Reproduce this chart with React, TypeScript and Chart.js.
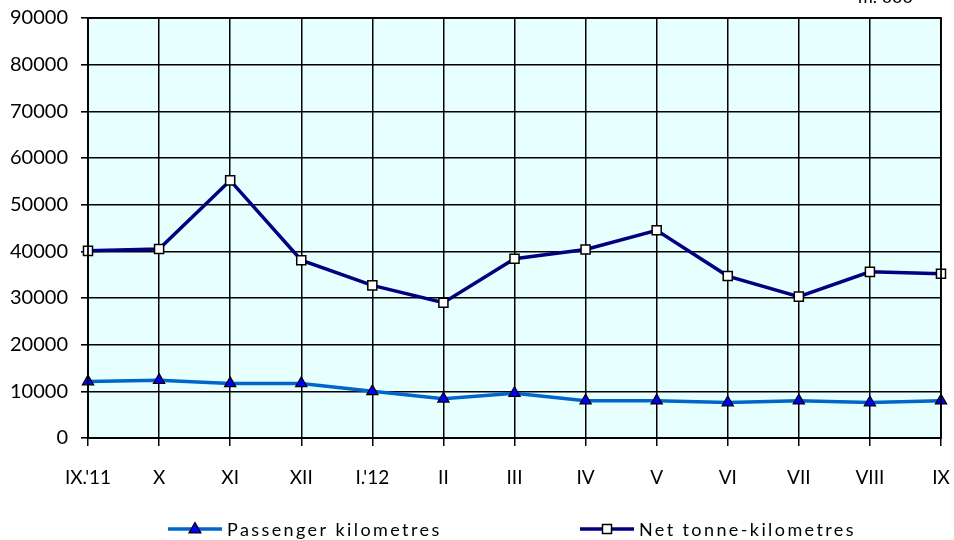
import React, { useEffect, useRef } from "react";
import { Chart, registerables } from "chart.js";

Chart.register(...registerables);

const categories = ["IX.'11", "X", "XI", "XII", "I.'12", "II", "III", "IV", "V", "VI", "VII", "VIII", "IX"];
const passengerKm = [12100, 12400, 11700, 11700, 10000, 8400, 9600, 8000, 8000, 7600, 8000, 7600, 8000];
const netTonneKm = [40100, 40500, 55200, 38100, 32700, 29000, 38400, 40400, 44500, 34700, 30300, 35600, 35200];
const yTicks = [0, 10000, 20000, 30000, 40000, 50000, 60000, 70000, 80000, 90000];
const unitLabel = "m. 000";
const seriesNames = ["Passenger kilometres", "Net tonne-kilometres"];

const FONT = "Lato";

const decorPlugin = {
  id: "decor",
  beforeDraw(chart: any) {
    const { ctx, chartArea } = chart;
    ctx.save();
    ctx.fillStyle = "#E8FFFF";
    ctx.fillRect(chartArea.left, chartArea.top, chartArea.right - chartArea.left, chartArea.bottom - chartArea.top);
    ctx.restore();
  },
  afterDraw(chart: any) {
    const { ctx, chartArea } = chart;
    ctx.save();
    ctx.strokeStyle = "#000";
    ctx.lineWidth = 1.8;
    ctx.strokeRect(chartArea.left, chartArea.top, chartArea.right - chartArea.left, chartArea.bottom - chartArea.top);
    ctx.fillStyle = "#000";
    ctx.font = `18px ${FONT}`;
    ctx.textBaseline = "alphabetic";
    ctx.textAlign = "left";
    ctx.fillText(unitLabel, 858, 3);
    const items = [
      { name: seriesNames[0], x: 168, color: "#0066CC", marker: "triangle" },
      { name: seriesNames[1], x: 580, color: "#000080", marker: "rect" },
    ];
    const y = 529;
    items.forEach((it) => {
      ctx.strokeStyle = it.color;
      ctx.lineWidth = 3.5;
      ctx.beginPath();
      ctx.moveTo(it.x, y);
      ctx.lineTo(it.x + 54, y);
      ctx.stroke();
      const cx = it.x + 27;
      ctx.lineWidth = 1.2;
      ctx.strokeStyle = "#000";
      if (it.marker === "triangle") {
        ctx.fillStyle = "#0000FF";
        ctx.beginPath();
        ctx.moveTo(cx, y - 6.5);
        ctx.lineTo(cx + 6, y + 4);
        ctx.lineTo(cx - 6, y + 4);
        ctx.closePath();
        ctx.fill();
        ctx.stroke();
      } else {
        ctx.fillStyle = "#FFFFFF";
        ctx.fillRect(cx - 4.5, y - 4.5, 9, 9);
        ctx.lineWidth = 1.5;
        ctx.strokeRect(cx - 4.5, y - 4.5, 9, 9);
      }
      ctx.fillStyle = "#000";
      ctx.font = `18px ${FONT}`;
      (ctx as any).letterSpacing = "2.4px";
      ctx.textBaseline = "middle";
      ctx.fillText(it.name, it.x + 59, y + 1);
      (ctx as any).letterSpacing = "0px";
    });
    ctx.restore();
  },
};

export default function App() {
  const ref = useRef<HTMLCanvasElement>(null);
  useEffect(() => {
    document.body.style.margin = "0";
    const chart = new Chart(ref.current!, {
      type: "line",
      data: {
        labels: categories,
        datasets: [
          {
            label: seriesNames[0],
            data: passengerKm,
            borderColor: "#0066CC",
            borderWidth: 3.5,
            pointStyle: "triangle",
            pointRadius: 6.5,
            pointBackgroundColor: "#0000FF",
            pointBorderColor: "#000",
            pointBorderWidth: 1.2,
            tension: 0,
          },
          {
            label: seriesNames[1],
            data: netTonneKm,
            borderColor: "#000080",
            borderWidth: 3.5,
            pointStyle: "rect",
            pointRadius: 6.4,
            pointBackgroundColor: "#FFFFFF",
            pointBorderColor: "#000",
            pointBorderWidth: 1.5,
            tension: 0,
          },
        ],
      },
      options: {
        responsive: false,
        animation: false,
        layout: { padding: { left: 0, right: 13, top: 18, bottom: 0 } },
        plugins: { legend: { display: false }, tooltip: { enabled: false } },
        scales: {
          x: {
            type: "category",
            offset: false,
            grid: { color: "#000", lineWidth: 1.5, tickLength: 8, offset: false, drawTicks: true },
            border: { color: "#000", width: 1.8 },
            ticks: { color: "#000", font: { family: FONT, size: 19 }, padding: 20, maxRotation: 0, autoSkip: false },
            afterFit: (s: any) => {
              s.height = 102;
              s.paddingLeft = 0;
              s.paddingRight = 0;
            },
          },
          y: {
            min: 0,
            max: 90000,
            afterBuildTicks: (s: any) => { s.ticks = yTicks.map((v) => ({ value: v })); },
            grid: { color: "#000", lineWidth: 1.6, tickLength: 7 },
            border: { color: "#000", width: 1.8 },
            ticks: {
              color: "#000",
              font: { family: FONT, size: 20 },
              padding: 13,
              callback: (v: any) => String(v),
            },
            afterFit: (s: any) => {
              s.width = 88;
              s.paddingTop = 0;
              s.paddingBottom = 0;
            },
          },
        },
      },
      plugins: [decorPlugin],
    });
    return () => chart.destroy();
  }, []);
  return (
    <div style={{ position: "absolute", left: 0, top: 0, width: 954, height: 540 }}>
      <canvas ref={ref} width={954} height={540} />
    </div>
  );
}
